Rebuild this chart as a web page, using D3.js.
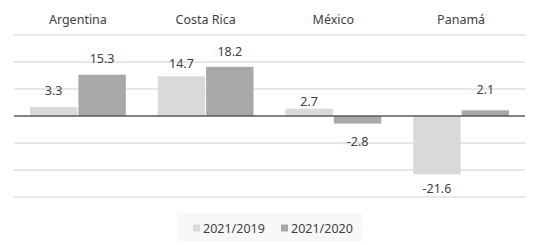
<!DOCTYPE html>
<html>
<head>
<meta charset="utf-8">
<script src="https://cdn.jsdelivr.net/npm/d3@7"></script>
<style>
  html, body { margin: 0; padding: 0; background: #fff; }
  svg { display: block; font-family: "Noto Sans", sans-serif; }
</style>
</head>
<body>
<svg id="chart" width="535" height="245"></svg>
<script>
const categories = ["Argentina", "Costa Rica", "México", "Panamá"];
const seriesNames = ["2021/2019", "2021/2020"];
const values2019 = [3.3, 14.7, 2.7, -21.6];
const values2020 = [15.3, 18.2, -2.8, 2.1];
const yTicks = [-30, -20, -10, 0, 10, 20, 30];
const colors = ["#d9d9d9", "#a8a8a8"];
// label nudges (px) to mirror the reference's label placement
const labelNudge2019 = [-12, -8, -3, 19];
const labelNudge2020 = [-12, -11, 22, -16];

const svg = d3.select("#chart");
const margin = { left: 14, right: 10, top: 35, bottom: 48 };
const W = 535, H = 245;
const fmt = v => d3.format(".1f")(v).replace("\u2212", "-");

const x = d3.scaleBand().domain(categories).range([margin.left, W - margin.right])
  .paddingInner(0.25).paddingOuter(0.125);
const xs = d3.scaleBand().domain(seriesNames).range([0, x.bandwidth()]).paddingInner(0.02);
const y = d3.scaleLinear().domain([-30, 30]).range([H - margin.bottom, margin.top]);

// gridlines
svg.append("g").selectAll("line").data(yTicks.filter(d => d !== 0)).join("line")
  .attr("x1", margin.left).attr("x2", W - margin.right)
  .attr("y1", d => y(d)).attr("y2", d => y(d))
  .attr("stroke", "#cfcfcf").attr("stroke-width", 1);

// category labels
svg.append("g").selectAll("text").data(categories).join("text")
  .attr("x", d => x(d) + x.bandwidth() / 2)
  .attr("y", 24)
  .attr("text-anchor", "middle")
  .attr("font-size", 12.5)
  .attr("fill", "#404040")
  .text(d => d);

const data = categories.map((c, i) => ({
  cat: c,
  vals: [
    { s: seriesNames[0], v: values2019[i], nudge: labelNudge2019[i] },
    { s: seriesNames[1], v: values2020[i], nudge: labelNudge2020[i] }
  ]
}));

const groups = svg.append("g").selectAll("g").data(data).join("g")
  .attr("transform", d => `translate(${x(d.cat)},0)`);

groups.selectAll("rect").data(d => d.vals).join("rect")
  .attr("x", d => xs(d.s))
  .attr("width", xs.bandwidth())
  .attr("y", d => y(Math.max(0, d.v)))
  .attr("height", d => Math.abs(y(d.v) - y(0)))
  .attr("fill", (d, i) => colors[i]);

// zero line
svg.append("line")
  .attr("x1", margin.left).attr("x2", W - margin.right)
  .attr("y1", y(0)).attr("y2", y(0))
  .attr("stroke", "#595959").attr("stroke-width", 1.3);

groups.selectAll("text").data(d => d.vals).join("text")
  .attr("x", d => xs(d.s) + xs.bandwidth() / 2)
  .attr("y", d => y(d.v) + d.nudge)
  .attr("text-anchor", "middle")
  .attr("font-size", 12.5)
  .attr("fill", "#404040")
  .text(d => fmt(d.v));

// legend
const lg = svg.append("g");
lg.append("rect").attr("x", 177).attr("y", 213).attr("width", 185).attr("height", 28)
  .attr("fill", "#f8f8f8");
const lx = [193, 281];
seriesNames.forEach((s, i) => {
  lg.append("rect").attr("x", lx[i]).attr("y", 224.5).attr("width", 7).attr("height", 7)
    .attr("fill", colors[i]);
  lg.append("text").attr("x", lx[i] + 10).attr("y", 232.5)
    .attr("font-size", 12.5).attr("fill", "#404040").text(s);
});
</script>
</body>
</html>
